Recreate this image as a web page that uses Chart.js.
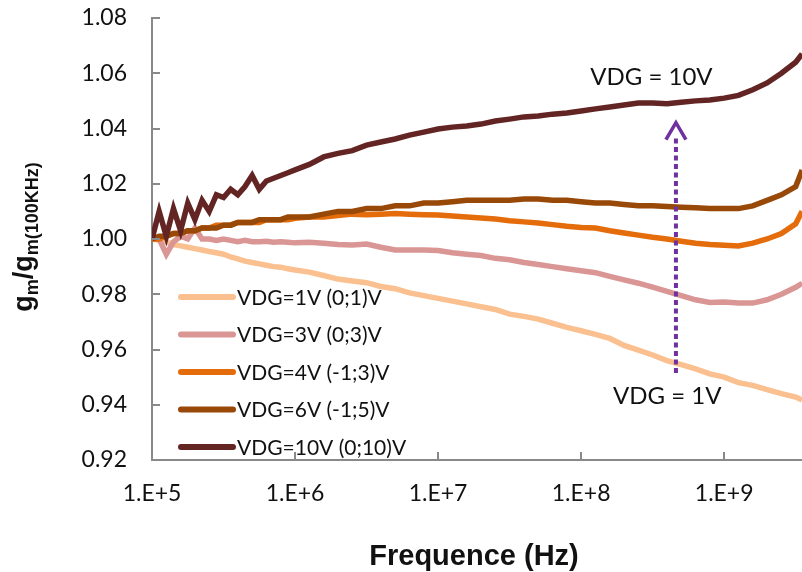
<!DOCTYPE html>
<html>
<head>
<meta charset="utf-8">
<script src="https://cdn.jsdelivr.net/npm/chart.js@4.4.1/dist/chart.umd.min.js"></script>
<style>
  html, body { margin: 0; padding: 0; background: #fff; }
  #wrap { width: 802px; height: 572px; }
</style>
</head>
<body>
<div id="wrap"><canvas id="chart" width="802" height="572"></canvas></div>
<script>
// frequency grid, as log10(Hz)
const logFreq = [
  5.00, 5.05, 5.10, 5.15, 5.20, 5.25, 5.30, 5.35, 5.40, 5.45,
  5.50, 5.55, 5.60, 5.65, 5.70, 5.75, 5.80, 5.85, 5.90, 5.95,
  6.00, 6.1, 6.2, 6.3, 6.4, 6.5, 6.6, 6.7, 6.8, 6.9,
  7.0, 7.1, 7.2, 7.3, 7.4, 7.5, 7.6, 7.7, 7.8, 7.9,
  8.0, 8.1, 8.2, 8.3, 8.4, 8.5, 8.6, 8.7, 8.8, 8.9,
  9.0, 9.1, 9.2, 9.3, 9.4, 9.5, 9.545
];

const vdg1 = [
  1.000, 0.9995, 0.999, 0.998, 0.9975, 0.997, 0.9965, 0.996, 0.9955, 0.995,
  0.9945, 0.9935, 0.9928, 0.992, 0.9915, 0.991, 0.9905, 0.990, 0.9898, 0.9892,
  0.9888, 0.988, 0.9868, 0.9855, 0.9848, 0.9842, 0.9828, 0.982, 0.9805, 0.9795,
  0.9785, 0.9775, 0.9765, 0.9755, 0.9745, 0.9728, 0.972, 0.971, 0.9695, 0.968,
  0.9668, 0.9655, 0.964, 0.9615, 0.9598, 0.958, 0.956, 0.9545, 0.953, 0.9512,
  0.950, 0.948, 0.947, 0.9455, 0.944, 0.9428, 0.9417
];
const vdg3 = [
  1.000, 1.000, 0.9945, 0.999, 1.001, 1.000, 1.004, 1.000, 1.000, 0.9995,
  1.000, 0.9995, 0.999, 0.9995, 0.999, 0.999, 0.9992, 0.9988, 0.999, 0.9988,
  0.9986, 0.9988, 0.9985, 0.998, 0.9978, 0.9982, 0.997, 0.996, 0.996, 0.996,
  0.9958, 0.995, 0.9945, 0.994, 0.993, 0.9925, 0.9915, 0.9908, 0.990, 0.9892,
  0.9885, 0.9878, 0.9865, 0.9852, 0.984, 0.9826, 0.981, 0.9795, 0.978, 0.977,
  0.9772, 0.9768, 0.9768, 0.978, 0.980, 0.9825, 0.984
];
const vdg4 = [
  1.000, 1.000, 1.001, 1.002, 1.002, 1.003, 1.003, 1.004, 1.004, 1.005,
  1.005, 1.005, 1.006, 1.006, 1.006, 1.006, 1.007, 1.007, 1.007, 1.007,
  1.0075, 1.008, 1.008, 1.0085, 1.009, 1.0088, 1.009, 1.0092, 1.009, 1.0088,
  1.0087, 1.0083, 1.008, 1.0076, 1.0072, 1.0066, 1.0062, 1.0058, 1.0052, 1.0046,
  1.0042, 1.004, 1.003, 1.0022, 1.0014, 1.0006, 1.000, 0.9992, 0.9985, 0.998,
  0.9977, 0.9975, 0.9985, 1.000, 1.002, 1.0055, 1.010
];
const vdg6 = [
  1.000, 1.001, 1.001, 1.002, 1.002, 1.003, 1.003, 1.004, 1.004, 1.004,
  1.005, 1.005, 1.006, 1.006, 1.006, 1.007, 1.007, 1.007, 1.007, 1.008,
  1.008, 1.008, 1.009, 1.010, 1.010, 1.011, 1.011, 1.012, 1.012, 1.013,
  1.013, 1.0135, 1.014, 1.014, 1.014, 1.014, 1.0145, 1.0145, 1.014, 1.014,
  1.0135, 1.013, 1.013, 1.0125, 1.012, 1.012, 1.0118, 1.0115, 1.0113, 1.011,
  1.011, 1.011, 1.012, 1.014, 1.016, 1.019, 1.025
];
const vdg10 = [
  1.000, 1.010, 1.001, 1.011, 1.003, 1.013, 1.007, 1.014, 1.010, 1.016,
  1.015, 1.018, 1.016, 1.019, 1.023, 1.018, 1.021, 1.022, 1.023, 1.024,
  1.025, 1.027, 1.0297, 1.031, 1.032, 1.034, 1.0351, 1.0362, 1.0376, 1.0387,
  1.0398, 1.0405, 1.0409, 1.0416, 1.0427, 1.0434, 1.0442, 1.0445, 1.0452, 1.0456,
  1.0463, 1.0471, 1.0478, 1.0485, 1.0492, 1.0492, 1.049, 1.0495, 1.050, 1.0503,
  1.051, 1.052, 1.054, 1.0565, 1.060, 1.064, 1.067
];

const seriesNames = ['VDG=1V (0;1)V', 'VDG=3V (0;3)V', 'VDG=4V (-1;3)V', 'VDG=6V (-1;5)V', 'VDG=10V (0;10)V'];
const seriesColors = ['#FAC090', '#D99694', '#E46C0A', '#984807', '#632523'];
const seriesValues = [vdg1, vdg3, vdg4, vdg6, vdg10];

const yTicks = [0.92, 0.94, 0.96, 0.98, 1.00, 1.02, 1.04, 1.06, 1.08];
const xDecades = [1e5, 1e6, 1e7, 1e8, 1e9];
const xMax = 3.5e9;

// annotation (arrow from VDG = 1V up to VDG = 10V)
const arrowFreq = 4.6e8;
const arrowFrom = 0.9515;
const arrowTo = 1.0425;
const labelTop = { text: 'VDG = 10V', freq: 3.1e8, value: 1.0585 };
const labelBottom = { text: 'VDG = 1V', freq: 4.0e8, value: 0.9432 };

const FONT = 'Lato, "Open Sans", sans-serif';
const BOLD = '"Liberation Sans", Arial, sans-serif';
const PLOT_TOP = 18;

const datasets = seriesValues.map((vals, i) => ({
  label: seriesNames[i],
  data: vals.map((v, k) => ({ x: Math.pow(10, logFreq[k]), y: v })),
  borderColor: seriesColors[i],
  backgroundColor: seriesColors[i],
  borderWidth: 5.5,
  pointRadius: 0,
  tension: 0,
  fill: false,
  order: seriesValues.length - i
}));

const decor = {
  id: 'decor',
  afterDraw(chart) {
    const ctx = chart.ctx;
    const xs = chart.scales.x, ys = chart.scales.y, area = chart.chartArea;
    ctx.save();

    // inside tick marks
    ctx.strokeStyle = '#898989';
    ctx.lineWidth = 2;
    yTicks.forEach(v => {
      const py = Math.round(ys.getPixelForValue(v));
      ctx.beginPath(); ctx.moveTo(area.left, py); ctx.lineTo(area.left + 8, py); ctx.stroke();
    });
    xDecades.forEach(v => {
      const px = Math.round(xs.getPixelForValue(v));
      ctx.beginPath(); ctx.moveTo(px, area.bottom); ctx.lineTo(px, area.bottom - 8); ctx.stroke();
    });

    // dotted arrow
    const ax = xs.getPixelForValue(arrowFreq);
    const ay0 = ys.getPixelForValue(arrowFrom);
    const ay1 = ys.getPixelForValue(arrowTo);
    ctx.strokeStyle = '#7030A0';
    ctx.lineWidth = 4;
    ctx.setLineDash([5, 3.5]);
    ctx.beginPath(); ctx.moveTo(ax, ay0); ctx.lineTo(ax, ay1 + 14); ctx.stroke();
    ctx.setLineDash([]);
    ctx.lineWidth = 3.5;
    ctx.lineJoin = 'miter';
    ctx.beginPath();
    ctx.moveTo(ax - 10, ay1 + 18); ctx.lineTo(ax, ay1 + 1); ctx.lineTo(ax + 10, ay1 + 18);
    ctx.stroke();

    // annotation text
    ctx.fillStyle = '#111';
    ctx.font = '24px ' + FONT;
    ctx.textAlign = 'center';
    ctx.textBaseline = 'middle';
    [labelTop, labelBottom].forEach(l => {
      ctx.fillText(l.text, xs.getPixelForValue(l.freq), ys.getPixelForValue(l.value));
    });

    // legend inside plot, bottom-left
    ctx.font = '21px ' + FONT;
    ctx.textAlign = 'left';
    ctx.lineCap = 'round';
    seriesNames.forEach((name, i) => {
      const ly = area.bottom - 163 + i * 37.5;
      ctx.strokeStyle = seriesColors[i];
      ctx.lineWidth = 6;
      ctx.beginPath(); ctx.moveTo(area.left + 29, ly); ctx.lineTo(area.left + 81, ly); ctx.stroke();
      ctx.fillStyle = '#111';
      ctx.fillText(name, area.left + 85, ly + 1);
    });

    // x axis title
    ctx.font = 'bold 29px ' + BOLD;
    ctx.textAlign = 'center';
    ctx.textBaseline = 'alphabetic';
    ctx.fillStyle = '#111';
    ctx.fillText('Frequence (Hz)', 474, 565);

    // y axis title with subscripts, rotated
    ctx.translate(32, 237);
    ctx.rotate(-Math.PI / 2);
    ctx.textAlign = 'left';
    const big = 'bold 27px ' + BOLD;
    const small = 'bold 18px ' + BOLD;
    const parts = [['g', big, 0], ['m', small, 6], ['/g', big, 0], ['m(100KHz)', small, 6]];
    let total = 0;
    parts.forEach(p => { ctx.font = p[1]; total += ctx.measureText(p[0]).width; });
    let cx = -total / 2;
    parts.forEach(p => {
      ctx.font = p[1];
      ctx.fillText(p[0], cx, p[2]);
      cx += ctx.measureText(p[0]).width;
    });

    ctx.restore();
  }
};

new Chart(document.getElementById('chart'), {
  type: 'line',
  data: { datasets: datasets },
  plugins: [decor],
  options: {
    responsive: false,
    animation: false,
    devicePixelRatio: 1,
    layout: { padding: { top: 0, right: 0, bottom: 0, left: 0 } },
    plugins: { legend: { display: false }, tooltip: { enabled: false } },
    scales: {
      x: {
        type: 'logarithmic',
        min: 1e5,
        max: xMax,
        grid: { drawOnChartArea: false, drawTicks: false },
        border: { color: '#898989', width: 2 },
        ticks: {
          autoSkip: false,
          maxRotation: 0,
          padding: 20,
          color: '#111',
          font: { family: FONT, size: 23 },
          callback: v => {
            const e = Math.log10(v);
            return Math.abs(e - Math.round(e)) < 1e-9 ? '1.E+' + Math.round(e) : null;
          }
        },
        afterFit: s => { s.height = 112; }
      },
      y: {
        min: 0.92,
        max: 1.08,
        grid: { drawOnChartArea: false, drawTicks: false },
        border: { color: '#898989', width: 2 },
        ticks: {
          stepSize: 0.02,
          padding: 25,
          color: '#111',
          font: { family: FONT, size: 23 },
          callback: v => v.toFixed(2)
        },
        afterFit: s => { s.width = 152; s.paddingTop = PLOT_TOP; }
      }
    }
  }
});
</script>
</body>
</html>
